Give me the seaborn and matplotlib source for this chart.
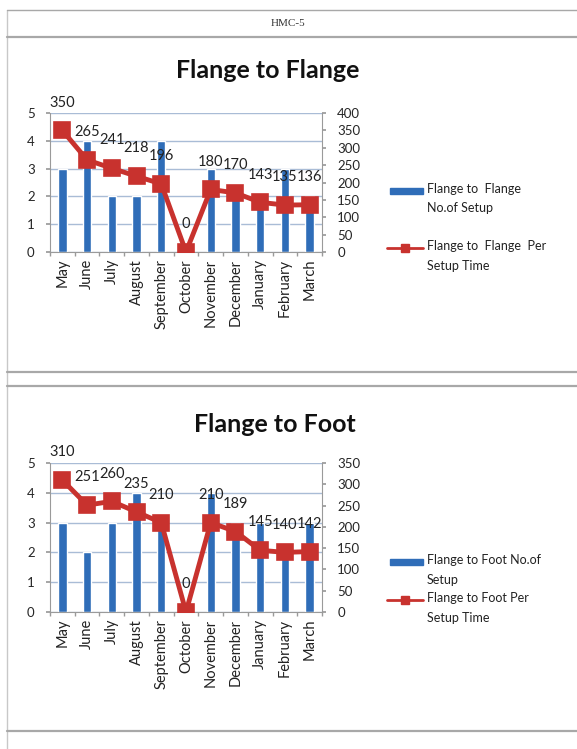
import matplotlib
matplotlib.use("Agg")
import matplotlib.pyplot as plt
import numpy as np
import seaborn as sns
from matplotlib.lines import Line2D
from matplotlib.patches import Rectangle

MONTHS = ["May", "June", "July", "August", "September", "October",
          "November", "December", "January", "February", "March"]

FF_SETUPS = [3, 4, 2, 2, 4, 0, 3, 2, 2, 3, 2]
FF_TIME = [350, 265, 241, 218, 196, 0, 180, 170, 143, 135, 136]

FT_SETUPS = [3, 2, 3, 4, 3, 0, 4, 3, 3, 2, 3]
FT_TIME = [310, 251, 260, 235, 210, 0, 210, 189, 145, 140, 142]

BAR_COLOR = "#2f6db8"
LINE_COLOR = "#c8322e"
GRID_COLOR = "#a9bcd6"
FRAME_COLOR = "#a8a8a8"
AXIS_COLOR = "#9a9a9a"

sns.set_theme(style="white")
plt.rcParams["font.family"] = ["Lato", "DejaVu Sans"]

fig = plt.figure(figsize=(5.77, 7.49), dpi=100)
W, H = 577, 749


def fx(x):
    return x / W


def fy(y):
    return 1 - y / H


def hline(y, x0=7, x1=577, lw=1.6):
    fig.add_artist(Line2D([fx(x0), fx(x1)], [fy(y), fy(y)],
                          color=FRAME_COLOR, lw=lw, transform=fig.transFigure))


# page frame
fig.add_artist(Line2D([fx(7), fx(7)], [fy(10), 0], color="#c8c8c8",
                      lw=1, transform=fig.transFigure))
hline(10, lw=1)
hline(37)
hline(372)
hline(386)
hline(731)
fig.text(fx(288), fy(23), "HMC-5", ha="center", va="center",
         fontsize=8, family="Liberation Serif", color="#333333")


def legend(y_bar, y_line, lab_bar, lab_line):
    fig.add_artist(Rectangle((fx(390), fy(y_bar + 3)), fx(33), 6 / H,
                             color=BAR_COLOR, transform=fig.transFigure))
    fig.add_artist(Line2D([fx(387), fx(423)], [fy(y_line), fy(y_line)],
                          color=LINE_COLOR, lw=2, transform=fig.transFigure))
    fig.add_artist(Line2D([fx(405)], [fy(y_line)], color=LINE_COLOR,
                          marker="s", markersize=6, lw=0,
                          transform=fig.transFigure))
    for y, lab in [(y_bar, lab_bar), (y_line, lab_line)]:
        fig.text(fx(427), fy(y - 8), lab, ha="left", va="top", fontsize=9,
                 linespacing=1.75, color="#222222")


def panel(rect, title, title_x, title_y, setups, times, ymax2):
    ax = fig.add_axes(rect)
    sns.barplot(x=MONTHS, y=setups, ax=ax, color=BAR_COLOR, width=0.34,
                saturation=1, zorder=2)
    ax.set_ylim(0, 5)
    ax.set_xlim(-0.5, len(MONTHS) - 0.5)
    ax.set_yticks(range(0, 6))
    ax.yaxis.grid(True, color=GRID_COLOR, lw=1)
    ax.set_axisbelow(True)
    for s in ["top", "right"]:
        ax.spines[s].set_visible(False)
    for s in ["left", "bottom"]:
        ax.spines[s].set_color(AXIS_COLOR)
        ax.spines[s].set_linewidth(0.8)
    ax.set_xticks(np.arange(-0.5, len(MONTHS)), minor=True)
    ax.tick_params(axis="x", which="major", length=0, labelsize=10.5,
                   labelrotation=90, pad=5, labelcolor="#222222")
    ax.tick_params(axis="x", which="minor", length=3, color=AXIS_COLOR,
                   direction="out", bottom=True)
    ax.tick_params(axis="y", length=3, color=AXIS_COLOR, labelsize=9.5,
                   left=True, pad=8)
    ax.set_xlabel("")
    ax.set_ylabel("")

    ax2 = ax.twinx()
    sns.pointplot(x=MONTHS, y=times, ax=ax2, color=LINE_COLOR, markers="s",
                  markersize=9.5, linewidth=3.5, zorder=3)
    ax2.set_ylim(0, ymax2)
    ax2.set_yticks(range(0, ymax2 + 1, 50))
    ax2.set_xlim(-0.5, len(MONTHS) - 0.5)
    for s in ["top", "left", "bottom"]:
        ax2.spines[s].set_visible(False)
    ax2.spines["right"].set_color(AXIS_COLOR)
    ax2.spines["right"].set_linewidth(0.8)
    ax2.tick_params(axis="y", length=3, color=AXIS_COLOR, labelsize=9.5,
                    right=True, pad=8)
    ax2.set_ylabel("")
    for i, v in enumerate(times):
        ax2.annotate(str(v), (i, v), xytext=(0, 20), textcoords="offset points",
                     ha="center", va="center", fontsize=10.5, color="#222222",
                     annotation_clip=False)

    fig.text(fx(title_x), fy(title_y), title, ha="center", va="center",
             fontsize=18, fontweight="bold", color="#111111")


panel([fx(50), fy(252), 272 / W, 139 / H], "Flange to Flange", 268, 70,
      FF_SETUPS, FF_TIME, 400)
legend(191, 248, "Flange to  Flange\nNo.of Setup",
       "Flange to  Flange  Per\nSetup Time")

panel([fx(50), fy(612), 272 / W, 149 / H], "Flange to Foot", 275, 424,
      FT_SETUPS, FT_TIME, 350)
legend(562, 600, "Flange to Foot No.of\nSetup", "Flange to Foot Per\nSetup Time")

fig.savefig("out.png", dpi=100)
